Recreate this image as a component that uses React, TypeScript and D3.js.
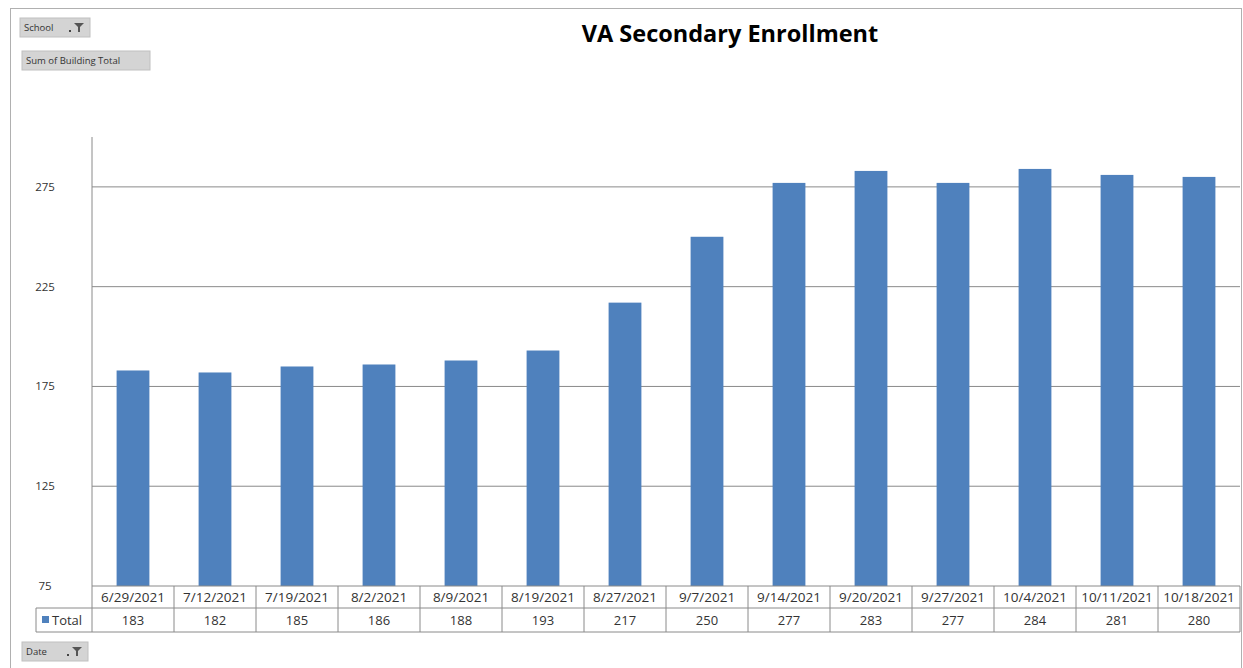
import React from "react";
import * as d3 from "d3";

const dates = ["6/29/2021","7/12/2021","7/19/2021","8/2/2021","8/9/2021","8/19/2021","8/27/2021","9/7/2021","9/14/2021","9/20/2021","9/27/2021","10/4/2021","10/11/2021","10/18/2021"];
const totals = [183,182,185,186,188,193,217,250,277,283,277,284,281,280];
const yTicks = [75,125,175,225,275];
const title = "VA Secondary Enrollment";
const seriesName = "Total";

const W = 1243, H = 668;
const L = 92, R = 1240, T = 137, B = 586;
const FONT = "Open Sans, Liberation Sans, sans-serif";

function FilterBtn({ x, y, w, label, filter }: { x: number; y: number; w: number; label: string; filter: boolean }) {
  return (
    <g>
      <rect x={x} y={y} width={w} height={19} fill="#d4d4d4" stroke="#c0c0c0" />
      <text x={x + 4} y={y + 13} fontSize={9.5} fill="#333" fontFamily={FONT}>{label}</text>
      {filter && (
        <g transform={`translate(${x + w - 16},${y + 5})`}>
          <rect x={-5} y={7} width={2} height={2} fill="#444" />
          <path d="M0,0 L10,0 L6,4 L6,9 L4,9 L4,4 Z" fill="#555" />
        </g>
      )}
    </g>
  );
}

export default function App() {
  const x = d3.scaleBand<string>().domain(dates).range([L, R]).paddingInner(0.6).paddingOuter(0.3);
  const cat = d3.scaleBand<string>().domain(dates).range([L, R]);
  const y = d3.scaleLinear().domain([75, 300]).range([B, T]);
  const row1 = [B, 608];
  const row2 = [608, 632];
  return (
    <svg width={W} height={H} style={{ position: "absolute", left: 0, top: 0, background: "#fff" }}>
      <rect x={10.5} y={8.5} width={1231} height={680} fill="#fff" stroke="#b0b0b0" />
      <text x={730} y={42} textAnchor="middle" fontSize={23.5} fontWeight="bold" fontFamily={FONT} fill="#000">{title}</text>
      <FilterBtn x={20} y={18} w={70} label="School" filter={true} />
      <FilterBtn x={22} y={51} w={128} label="Sum of Building Total" filter={false} />
      <FilterBtn x={22} y={642} w={66} label="Date" filter={true} />

      {yTicks.slice(1).map(t => (
        <line key={t} x1={L} x2={R} y1={y(t)} y2={y(t)} stroke="#8a8a8a" strokeWidth={1} />
      ))}
      {yTicks.map(t => (
        <text key={t} x={45} y={y(t) + 4} textAnchor="middle" fontSize={11.5} fill="#333" fontFamily={FONT}>{t}</text>
      ))}
      {dates.map((d, i) => (
        <rect key={d} x={x(d)} y={y(totals[i])} width={x.bandwidth()} height={B - y(totals[i])} fill="#4f81bd" />
      ))}
      <line x1={L} x2={L} y1={T} y2={B} stroke="#8a8a8a" />

      {/* data table */}
      <line x1={L} x2={R} y1={row1[0]} y2={row1[0]} stroke="#8a8a8a" />
      <line x1={36} x2={R} y1={row2[0]} y2={row2[0]} stroke="#8a8a8a" />
      <line x1={36} x2={R} y1={row2[1]} y2={row2[1]} stroke="#8a8a8a" />
      <line x1={36} x2={36} y1={row2[0]} y2={row2[1]} stroke="#8a8a8a" />
      {dates.map(d => (
        <line key={d} x1={cat(d)} x2={cat(d)} y1={row1[0]} y2={row2[1]} stroke="#8a8a8a" />
      ))}
      <line x1={R} x2={R} y1={row1[0]} y2={row2[1]} stroke="#8a8a8a" />
      {dates.map((d, i) => (
        <g key={d}>
          <text x={cat(d)! + cat.bandwidth() / 2} y={602} textAnchor="middle" fontSize={13.5} fill="#333" fontFamily={FONT}>{d}</text>
          <text x={cat(d)! + cat.bandwidth() / 2} y={625} textAnchor="middle" fontSize={13} fill="#333" fontFamily={FONT}>{totals[i]}</text>
        </g>
      ))}
      <rect x={42} y={616} width={7} height={7} fill="#4f81bd" />
      <text x={52} y={625} fontSize={13} fill="#333" fontFamily={FONT}>{seriesName}</text>
    </svg>
  );
}
